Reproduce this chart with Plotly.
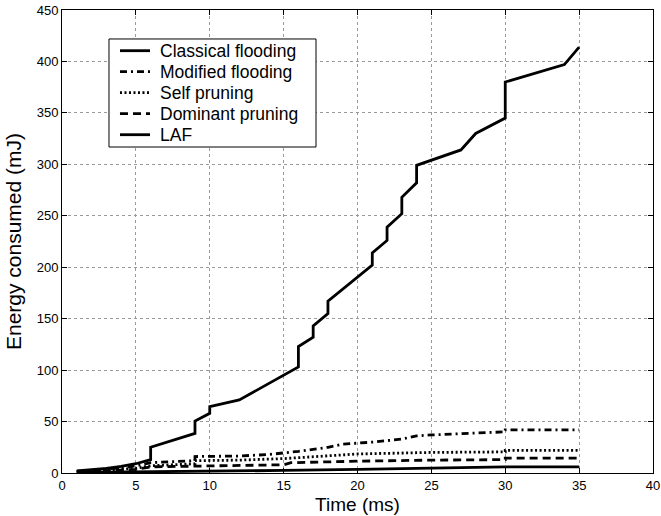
import plotly.graph_objects as go

# ---- data ----
classical_x = [1, 2, 3, 4, 5, 6, 6, 9, 9, 10, 10, 12, 16, 16, 17, 17, 18, 18, 21, 21, 22, 22, 23, 23, 24, 24, 27, 28, 30, 30, 34, 35]
classical_y = [2, 3, 4.5, 6.5, 9, 13, 25, 38.5, 50.5, 58, 64.5, 71, 103, 123, 132, 143, 155, 167, 202, 214, 226, 239, 252, 268, 282, 299, 314, 330, 345, 380, 397, 414]

modified_x = [1, 2, 3, 4, 5, 6, 9, 9, 12, 14, 16, 17, 18, 19, 21, 23, 24, 25, 28, 30, 30, 35]
modified_y = [1.5, 2.5, 3.5, 5, 7, 10, 12, 16, 16.5, 18, 21, 23, 25, 28, 30, 33, 36, 37, 38.5, 40, 42, 42]

self_x = [1, 3, 5, 6, 9, 9, 12, 15, 17, 20, 25, 30, 30, 35]
self_y = [1, 2.5, 4.5, 7, 9, 12, 12.5, 14, 16, 18.5, 20, 20.5, 22, 22]

dominant_x = [1, 3, 5, 6, 9, 12, 15, 15.5, 18, 20, 25, 30, 30, 35]
dominant_y = [1, 2, 3.5, 6, 6.5, 7, 8, 10, 11, 11.5, 12.5, 13, 14.5, 14.5]

laf_x = [1, 5, 10, 15, 20, 25, 30, 35]
laf_y = [0.5, 1, 1.5, 2.5, 3.5, 5, 6, 6]

series_names = ["Classical flooding", "Modified flooding", "Self pruning", "Dominant pruning", "LAF"]

FONT = "Liberation Sans, Arial, Helvetica, sans-serif"

fig = go.Figure()
dashes = ["solid", "7px,4px,2px,4px", "2px,2.5px", "8px,5px", "solid"]
series = [(classical_x, classical_y), (modified_x, modified_y), (self_x, self_y),
          (dominant_x, dominant_y), (laf_x, laf_y)]
for name, (xs, ys), dash in zip(series_names, series, dashes):
    fig.add_trace(go.Scatter(
        x=xs, y=ys, mode="lines", name=name, showlegend=False,
        line=dict(color="black", width=2.8, dash=dash),
    ))

# ---- hand-built legend box (matches the compact MATLAB legend) ----
box_x0, box_x1, box_y0, box_y1 = 0.0795, 0.4298, 0.7041, 0.9374
fig.add_shape(type="rect", xref="paper", yref="paper",
              x0=box_x0, x1=box_x1, y0=box_y0, y1=box_y1,
              line=dict(color="black", width=1), fillcolor="white", layer="above")
entry_top = 0.9121
entry_step = 0.04536
for i, (name, dash) in enumerate(zip(series_names, dashes)):
    yy = entry_top - i * entry_step
    fig.add_shape(type="line", xref="paper", yref="paper",
                  x0=0.0981, x1=0.1489, y0=yy, y1=yy,
                  line=dict(color="black", width=2.8, dash=dash), layer="above")
    fig.add_annotation(xref="paper", yref="paper", x=0.1628, y=yy,
                       xanchor="left", yanchor="middle", text=name, showarrow=False,
                       font=dict(family=FONT, size=17.5, color="black"))

axis_common = dict(
    showline=True, linecolor="black", linewidth=1, mirror="ticks",
    ticks="inside", ticklen=5, tickcolor="black", tickwidth=1,
    showgrid=True, gridcolor="#9a9a9a", griddash="dot", gridwidth=1,
    zeroline=False, tickfont=dict(family=FONT, size=13, color="black"),
)

fig.update_xaxes(range=[0, 40], dtick=5, tick0=0,
                 title=dict(text="Time (ms)", font=dict(family=FONT, size=19, color="black"), standoff=6),
                 **axis_common)
fig.update_yaxes(range=[0, 450], dtick=50, tick0=0,
                 title=dict(text="Energy consumed (mJ)", font=dict(family=FONT, size=21, color="black"), standoff=9),
                 **axis_common)

fig.update_layout(
    width=661, height=516,
    margin=dict(l=62, r=8, t=10, b=43, autoexpand=False),
    paper_bgcolor="white", plot_bgcolor="white",
    font=dict(family=FONT, color="black"),
    showlegend=False,
)

fig.write_html("out.html")
